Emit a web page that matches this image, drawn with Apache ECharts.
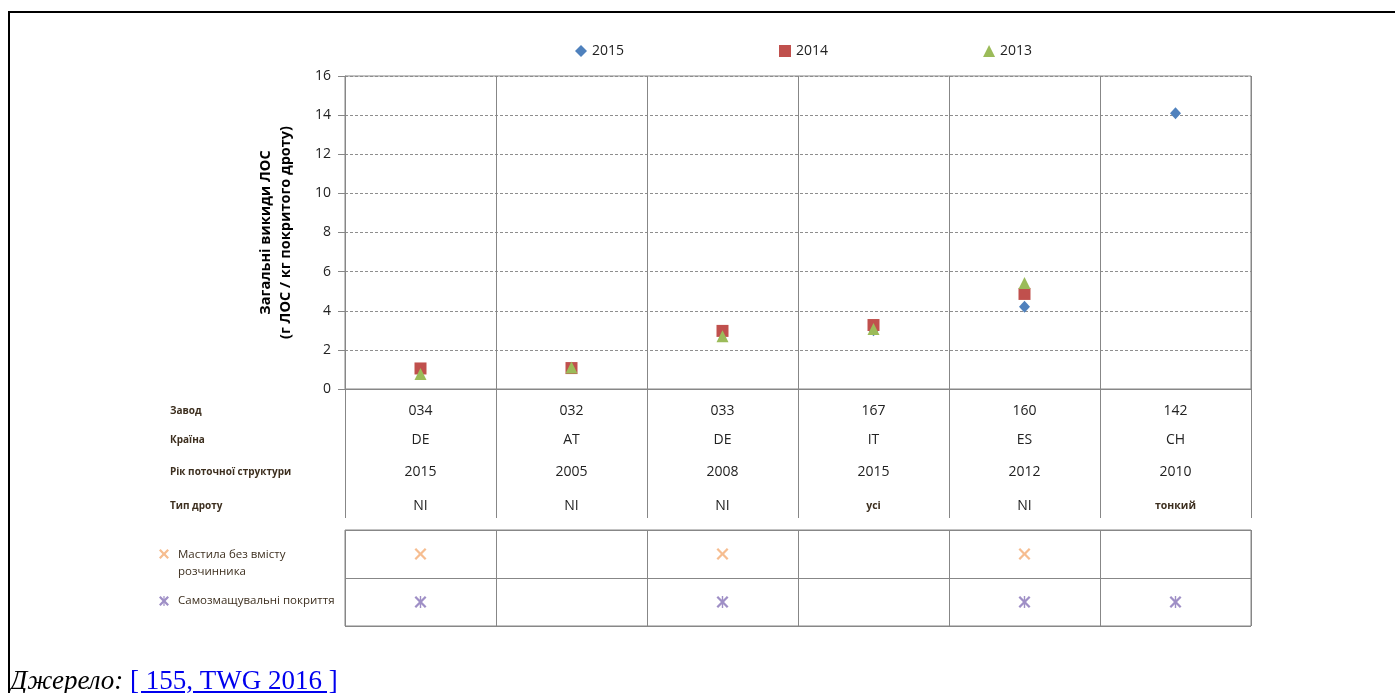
<!DOCTYPE html>
<html>
<head>
<meta charset="utf-8">
<script src="https://cdn.jsdelivr.net/npm/echarts@6/dist/echarts.min.js"></script>
<style>
  html, body { margin: 0; padding: 0; background: #fff; }
  #frame { position: absolute; left: 8px; top: 11px; width: 1400px; height: 700px;
           border-top: 2px solid #000; border-left: 2px solid #000; }
  #chart { position: absolute; left: 0; top: 0; width: 1395px; height: 693px; }
  #source { position: absolute; left: 10px; top: 665px; font-family: "Liberation Serif", serif;
            font-size: 27px; line-height: 30px; color: #000; white-space: nowrap; }
  #source i { font-style: italic; }
  #source a { color: #0000ee; text-decoration: underline; }
</style>
</head>
<body>
<div id="frame"></div>
<div id="chart"></div>
<div id="source"><i>Джерело:</i> <a>[ 155, TWG 2016 ]</a></div>
<script>
// Plants and their descriptors
const plants = ['034', '032', '033', '167', '160', '142'];
const countries = ['DE', 'AT', 'DE', 'IT', 'ES', 'CH'];
const structureYears = ['2015', '2005', '2008', '2015', '2012', '2010'];
const wireTypes = ['NI', 'NI', 'NI', 'усі', 'NI', 'тонкий'];

// Total VOC emissions, g VOC / kg coated wire
const voc2015 = [null, null, null, 3.0, 4.2, 14.1];
const voc2014 = [1.05, 1.07, 2.97, 3.27, 4.86, null];
const voc2013 = [0.77, 1.1, 2.7, 3.07, 5.42, null];

// Techniques in use (1 = applied)
const solventFreeLubricants = [1, 0, 1, 0, 1, 0];
const selfLubricatingEnamels = [1, 0, 1, 0, 1, 1];

const yTicks = { min: 0, max: 16, interval: 2 };
const techniqueRows = ['solventFree', 'selfLubricating'];

const FONT = '"Open Sans", "Noto Sans", sans-serif';
const GRID_LINE = '#878787';
const LABEL_BROWN = '#3d2f1f';
const CROSS_COLOR = '#f6bd90';
const STAR_COLOR = '#9f8fc6';

const crossPath = 'path://M0,1.6L1.6,0L6,4.4L10.4,0L12,1.6L7.6,6L12,10.4L10.4,12L6,7.6L1.6,12L0,10.4L4.4,6Z';
const starPath = crossPath + 'M5.3,0L6.7,0L6.7,12L5.3,12Z';

// small key glyphs for the technique rows (10 px box)
const crossPoints = [[0, 1.6], [1.6, 0], [5, 3.4], [8.4, 0], [10, 1.6], [6.6, 5],
                     [10, 8.4], [8.4, 10], [5, 6.6], [1.6, 10], [0, 8.4], [3.4, 5]];
function keyGlyph(x, y, color, withBar) {
  const children = [{ type: 'polygon', shape: { points: crossPoints }, style: { fill: color } }];
  if (withBar) children.push({ type: 'rect', shape: { x: 4.4, y: 0, width: 1.2, height: 10 }, style: { fill: color } });
  return { type: 'group', x: x, y: y, children: children };
}

const wireLabel = (v, i) => /[A-Za-z]/.test(wireTypes[i]) ? wireTypes[i] : '{b|' + wireTypes[i] + '}';

function flagPoints(flags, row) {
  const pts = [];
  flags.forEach((f, i) => { if (f) pts.push([i, row]); });
  return pts;
}

function infoAxis(offset, formatter) {
  return {
    type: 'category', gridIndex: 1, data: plants, position: 'bottom', offset: offset,
    axisLine: { show: false }, axisTick: { show: false }, splitLine: { show: false },
    axisLabel: {
      interval: 0, margin: 0, verticalAlign: 'middle', formatter: formatter,
      fontFamily: FONT, fontSize: 14, color: '#222',
      rich: { b: { fontFamily: FONT, fontSize: 10.5, fontWeight: 'bold', color: LABEL_BROWN } }
    }
  };
}

function caption(text, y) {
  return { type: 'text', x: 170, y: y, style: { text: text, font: 'bold 10px ' + FONT, fill: LABEL_BROWN, verticalAlign: 'middle' } };
}

const chart = echarts.init(document.getElementById('chart'));

chart.setOption({
  backgroundColor: 'transparent',
  animation: false,
  textStyle: { fontFamily: FONT },
  legend: {
    left: 570, top: 39, itemGap: 155, itemWidth: 12, itemHeight: 12,
    data: ['2015', '2014', '2013'],
    textStyle: { fontFamily: FONT, fontSize: 14, color: '#222' }
  },
  grid: [
    { left: 345, top: 76, width: 906, height: 313, show: true, borderColor: GRID_LINE, borderWidth: 1 },
    { left: 345, top: 389, width: 906, height: 129, show: false },
    { left: 345, top: 530, width: 906, height: 96, show: true, borderColor: GRID_LINE, borderWidth: 1 }
  ],
  xAxis: [
    {
      type: 'category', gridIndex: 0, data: plants,
      axisLine: { lineStyle: { color: GRID_LINE } }, axisTick: { show: false },
      axisLabel: { show: false },
      splitLine: { show: true, lineStyle: { color: GRID_LINE, width: 1 } }
    },
    Object.assign(infoAxis(-107, (v) => v), {
      splitLine: { show: true, lineStyle: { color: GRID_LINE, width: 1 } }
    }),
    infoAxis(-78, (v, i) => countries[i]),
    infoAxis(-46, (v, i) => structureYears[i]),
    infoAxis(-12, wireLabel),
    {
      type: 'category', gridIndex: 2, data: plants,
      axisLine: { show: false }, axisTick: { show: false }, axisLabel: { show: false },
      splitLine: { show: true, lineStyle: { color: GRID_LINE, width: 1 } }
    }
  ],
  yAxis: [
    {
      type: 'value', gridIndex: 0, min: yTicks.min, max: yTicks.max, interval: yTicks.interval,
      name: 'Загальні викиди ЛОС\n(г ЛОС / кг покритого дроту)',
      nameLocation: 'middle', nameGap: 49,
      nameTextStyle: { fontFamily: FONT, fontSize: 14.5, fontWeight: 'bold', color: '#000', lineHeight: 20 },
      axisLine: { show: true, lineStyle: { color: GRID_LINE } },
      axisTick: { show: true, length: 7, lineStyle: { color: GRID_LINE } },
      axisLabel: { margin: 14, fontFamily: FONT, fontSize: 14, color: '#222' },
      splitLine: { show: true, lineStyle: { color: '#8e8e8e', type: [3, 2], width: 1 } }
    },
    { type: 'value', gridIndex: 1, show: false, min: 0, max: 1 },
    {
      type: 'category', gridIndex: 2, data: techniqueRows, inverse: true,
      axisLine: { show: false }, axisTick: { show: false }, axisLabel: { show: false },
      splitLine: { show: true, interval: 0, lineStyle: { color: GRID_LINE, width: 1 } }
    }
  ],
  series: [
    {
      name: '2015', type: 'scatter', xAxisIndex: 0, yAxisIndex: 0, data: voc2015,
      symbol: 'diamond', symbolSize: [11, 12], itemStyle: { color: '#4f81bd', opacity: 1 }, z: 2
    },
    {
      name: '2014', type: 'scatter', xAxisIndex: 0, yAxisIndex: 0, data: voc2014,
      symbol: 'rect', symbolSize: 12, itemStyle: { color: '#c0504d', opacity: 1 }, z: 3
    },
    {
      name: '2013', type: 'scatter', xAxisIndex: 0, yAxisIndex: 0, data: voc2013,
      symbol: 'triangle', symbolSize: 12, itemStyle: { color: '#9bbb59', opacity: 1 }, z: 4
    },
    {
      name: 'Мастила без вмісту розчинника', type: 'scatter', xAxisIndex: 5, yAxisIndex: 2,
      data: flagPoints(solventFreeLubricants, techniqueRows[0]),
      symbol: crossPath, symbolSize: 12, itemStyle: { color: CROSS_COLOR, opacity: 1 }
    },
    {
      name: 'Самозмащувальні покриття', type: 'scatter', xAxisIndex: 5, yAxisIndex: 2,
      data: flagPoints(selfLubricatingEnamels, techniqueRows[1]),
      symbol: starPath, symbolSize: 12, itemStyle: { color: STAR_COLOR, opacity: 1 }
    }
  ],
  graphic: [
    // descriptor row captions
    caption('Завод', 411),
    caption('Країна', 440),
    caption('Рік поточної структури', 472),
    caption('Тип дроту', 506),
    // technique keys
    keyGlyph(159, 549, CROSS_COLOR, false),
    { type: 'text', x: 178, y: 546, style: { text: 'Мастила без вмісту\nрозчинника', font: '11.5px ' + FONT, fill: LABEL_BROWN, lineHeight: 17 } },
    keyGlyph(159, 596, STAR_COLOR, true),
    { type: 'text', x: 178, y: 601, style: { text: 'Самозмащувальні покриття', font: '11.5px ' + FONT, fill: LABEL_BROWN, verticalAlign: 'middle' } }
  ]
});
</script>
</body>
</html>
